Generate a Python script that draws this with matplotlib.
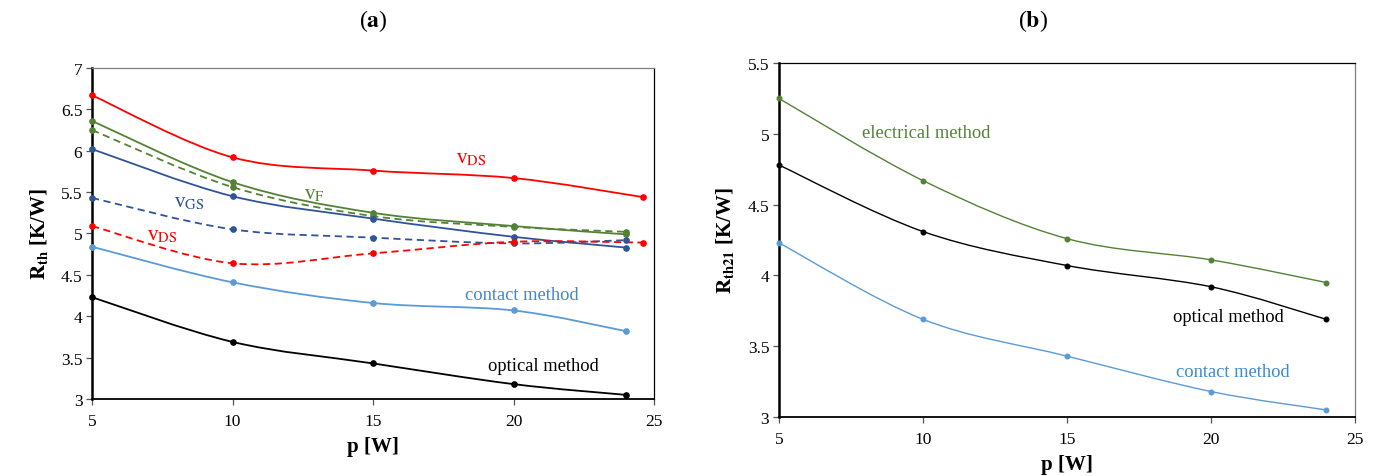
import matplotlib
matplotlib.use("Agg")
import matplotlib.pyplot as plt
import numpy as np
from matplotlib.path import Path
from matplotlib.patches import PathPatch
from matplotlib.ticker import FuncFormatter

# Power steps (last V_DS point was taken at 24.6 W)
pLeft = [5, 10, 15, 20, 24]
pLeftDS = [5, 10, 15, 20, 24.6]
pRight = [5, 10, 15, 20, 24]

# (a) thermal resistance from the different temperature-sensitive parameters
vdsSolid = [6.67, 5.92, 5.76, 5.67, 5.44]
vdsDashed = [5.09, 4.64, 4.76, 4.90, 4.89]
vfSolid = [6.36, 5.62, 5.25, 5.09, 4.99]
vfDashed = [6.25, 5.56, 5.21, 5.08, 5.02]
vgsSolid = [6.02, 5.45, 5.18, 4.96, 4.83]
vgsDashed = [5.43, 5.05, 4.95, 4.88, 4.92]
contactLeft = [4.84, 4.41, 4.16, 4.07, 3.82]
opticalLeft = [4.23, 3.69, 3.43, 3.18, 3.05]

# (b) mutual thermal resistance
electricalRight = [5.25, 4.67, 4.26, 4.11, 3.95]
opticalRight = [4.78, 4.31, 4.07, 3.92, 3.69]
contactRight = [4.23, 3.69, 3.43, 3.18, 3.05]

RED = "#FF0000"
GREEN = "#548235"
DARKBLUE = "#2F5597"
LIGHTBLUE = "#5B9BD5"
LABELBLUE = "#3A8AD0"

plt.rcParams["font.family"] = "serif"
plt.rcParams["font.serif"] = ["Liberation Serif", "DejaVu Serif"]
plt.rcParams["mathtext.fontset"] = "stix"


# smoothPath builds an Excel-style smoothed curve (Catmull-Rom as cubic Bezier segments)
def smoothPath(x, y):
    pts = np.column_stack([x, y]).astype(float)
    n = len(pts)
    verts = [pts[0]]
    codes = [Path.MOVETO]
    for i in range(n - 1):
        p0 = pts[max(i - 1, 0)]
        p1 = pts[i]
        p2 = pts[i + 1]
        p3 = pts[min(i + 2, n - 1)]
        verts += [p1 + (p2 - p0) / 6, p2 - (p3 - p1) / 6, p2]
        codes += [Path.CURVE4] * 3
    return Path(verts, codes)


# drawSeries puts a smoothed line plus point markers on the axes
def drawSeries(ax, x, y, color, lw, ms, dashed=False):
    ls = (0, (4, 2.5)) if dashed else "-"
    ax.add_patch(PathPatch(smoothPath(x, y), fill=False, edgecolor=color, lw=lw,
                           linestyle=ls, capstyle="butt", zorder=2))
    ax.plot(x, y, ls="None", marker="o", ms=ms, color=color, zorder=3, clip_on=False)


def styleAxes(ax, ylo, yhi, ylabel, spineGray):
    ax.set_xlim(5, 25)
    ax.set_ylim(ylo, yhi)
    ax.set_xticks([5, 10, 15, 20, 25])
    ax.set_yticks(np.arange(ylo, yhi + 0.01, 0.5))
    ax.yaxis.set_major_formatter(FuncFormatter(lambda v, _: "%g" % v))
    ax.tick_params(direction="out", length=4, width=0.9, color="#555555",
                   labelsize=12.5, pad=3)
    ax.tick_params(axis="x", pad=6)
    ax.spines["left"].set_linewidth(1.8)
    ax.spines["bottom"].set_linewidth(1.3)
    ax.spines["left"].set_color("black")
    ax.spines["bottom"].set_color("black")
    for side in ("top", "right"):
        ax.spines[side].set_linewidth(0.9)
    ax.spines[spineGray].set_color("#7F7F7F")
    ax.set_xlabel("p [W]", fontsize=15, fontweight="bold", labelpad=5)
    ax.set_ylabel(ylabel, fontsize=15, fontweight="bold", labelpad=8)


fig = plt.figure(figsize=(13.76, 4.77), dpi=100)
axA = fig.add_axes([0.0669, 0.1614, 0.4084, 0.694])
axB = fig.add_axes([0.5661, 0.1237, 0.4186, 0.742])

# ---- (a)
lwA, msA = 1.3, 3.8
drawSeries(axA, pLeftDS, vdsSolid, RED, lwA, msA)
drawSeries(axA, pLeft, vfSolid, GREEN, lwA, msA)
drawSeries(axA, pLeft, vfDashed, GREEN, lwA, msA, dashed=True)
drawSeries(axA, pLeft, vgsSolid, DARKBLUE, lwA, msA)
drawSeries(axA, pLeft, vgsDashed, DARKBLUE, lwA, msA, dashed=True)
drawSeries(axA, pLeftDS, vdsDashed, RED, lwA, msA, dashed=True)
drawSeries(axA, pLeft, contactLeft, LIGHTBLUE, lwA, msA)
drawSeries(axA, pLeft, opticalLeft, "black", lwA, msA)
styleAxes(axA, 3, 7, r"$\mathbf{R_{th}}$ [K/W]", "top")

vsize = 15
axA.text(18.49, 5.92, r"v$_{\mathrm{DS}}$", color=RED, fontsize=vsize, ha="center", va="center")
axA.text(12.9, 5.48, r"v$_{\mathrm{F}}$", color=GREEN, fontsize=vsize, ha="center", va="center")
axA.text(8.45, 5.38, r"v$_{\mathrm{GS}}$", color=DARKBLUE, fontsize=vsize, ha="center", va="center")
axA.text(7.49, 4.99, r"v$_{\mathrm{DS}}$", color=RED, fontsize=vsize, ha="center", va="center")
axA.text(20.3, 4.26, "contact method", color=LABELBLUE, fontsize=13.3, ha="center", va="center")
axA.text(21.05, 3.40, "optical method", color="black", fontsize=13.3, ha="center", va="center")

# ---- (b)
lwB, msB = 1.0, 3.3
drawSeries(axB, pRight, electricalRight, GREEN, lwB, msB)
drawSeries(axB, pRight, opticalRight, "black", lwB, msB)
drawSeries(axB, pRight, contactRight, LIGHTBLUE, lwB, msB)
styleAxes(axB, 3, 5.5, r"$\mathbf{R_{th21}}$ [K/W]", "right")

axB.text(10.1, 5.01, "electrical method", color=GREEN, fontsize=13.3, ha="center", va="center")
axB.text(20.6, 3.71, "optical method", color="black", fontsize=13.3, ha="center", va="center")
axB.text(20.76, 3.32, "contact method", color=LABELBLUE, fontsize=13.3, ha="center", va="center")

fig.text(373 / 1376, 1 - 21 / 477, r"($\mathbf{a}$)", fontsize=17, ha="center", va="center")
fig.text(1033 / 1376, 1 - 21 / 477, r"($\mathbf{b}$)", fontsize=17, ha="center", va="center")

fig.savefig("out.png", dpi=100)
plt.close(fig)
